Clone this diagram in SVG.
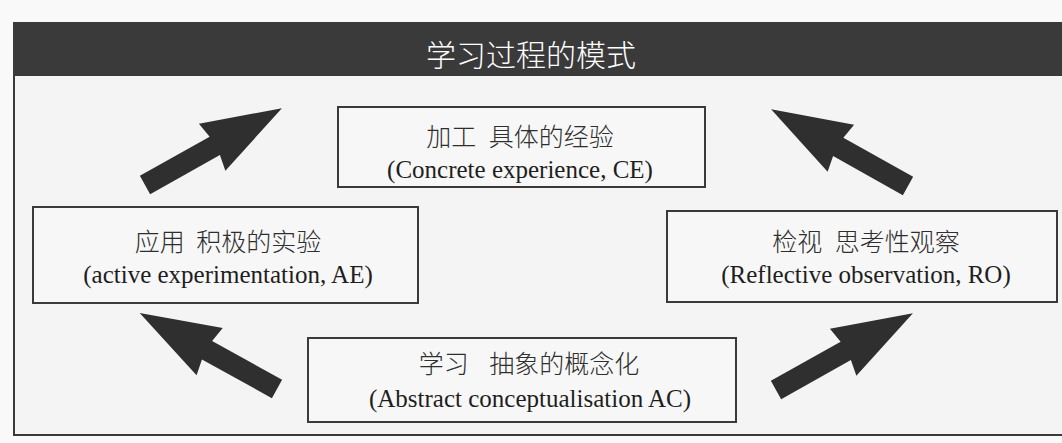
<svg xmlns="http://www.w3.org/2000/svg" width="1062" height="443" viewBox="0 0 1062 443">
  <defs>
    <style>
      .box { fill: #f7f7f7; stroke: #3a3a3a; stroke-width: 2; }
      .cn { font-family: "Noto Sans CJK SC", "Noto Sans", sans-serif; font-weight: 300; font-size: 25px; fill: #2e2e2e; text-anchor: middle; }
      .en { font-family: "Liberation Serif", "Noto Sans CJK SC", serif; font-size: 25px; fill: #1e1e1e; text-anchor: middle; }
      .title { font-family: "Noto Sans CJK SC", "Noto Sans", sans-serif; font-weight: 300; font-size: 30px; fill: #ffffff; text-anchor: middle; }
      .arrow { fill: #2f2f2f; }
    </style>
    <polygon id="arw" points="0,-10.5 80,-10.5 77,-27 157,0 77,27 80,10.5 0,10.5"/>
  </defs>

  <rect x="0" y="0" width="1062" height="443" fill="#f9f9f9"/>
  <rect x="14" y="22" width="1060" height="413" fill="#f4f4f4"/>

  <g id="frame">
    <rect x="13" y="22" width="1052" height="54" fill="#3a3a3a"/>
    <line x1="14" y1="22" x2="14" y2="436" stroke="#3a3a3a" stroke-width="2"/>
    <line x1="13" y1="435" x2="1062" y2="435" stroke="#3a3a3a" stroke-width="2"/>
    <text class="title" x="531" y="66">学习过程的模式</text>
  </g>

  <g id="node-ce">
    <rect class="box" x="338" y="107" width="367" height="80"/>
    <text class="cn" x="520" y="146">加工 <tspan dx="7">具体的经验</tspan></text>
    <text class="en" x="520" y="178">(Concrete experience, CE)</text>
  </g>

  <g id="node-ae">
    <rect class="box" x="33" y="207" width="385" height="96"/>
    <text class="cn" x="228" y="251">应用 <tspan dx="6">积极的实验</tspan></text>
    <text class="en" x="228" y="283">(active experimentation, AE)</text>
  </g>

  <g id="node-ro">
    <rect class="box" x="667" y="211" width="390" height="91"/>
    <text class="cn" x="866" y="251">检视 <tspan dx="7">思考性观察</tspan></text>
    <text class="en" x="866" y="283">(Reflective observation, RO)</text>
  </g>

  <g id="node-ac">
    <rect class="box" x="308" y="338" width="428" height="84"/>
    <text class="cn" x="529" y="373">学习 <tspan dx="15">抽象的概念化</tspan></text>
    <text class="en" x="530" y="407">(Abstract conceptualisation AC)</text>
  </g>

  <g id="connectors">
    <use href="#arw" class="arrow" transform="translate(145,185) rotate(-29.3)"/>
    <use href="#arw" class="arrow" transform="translate(908,186) rotate(-150.7)"/>
    <use href="#arw" class="arrow" transform="translate(277,389) rotate(-151)"/>
    <use href="#arw" class="arrow" transform="translate(776,390) rotate(-29.3)"/>
  </g>
</svg>
